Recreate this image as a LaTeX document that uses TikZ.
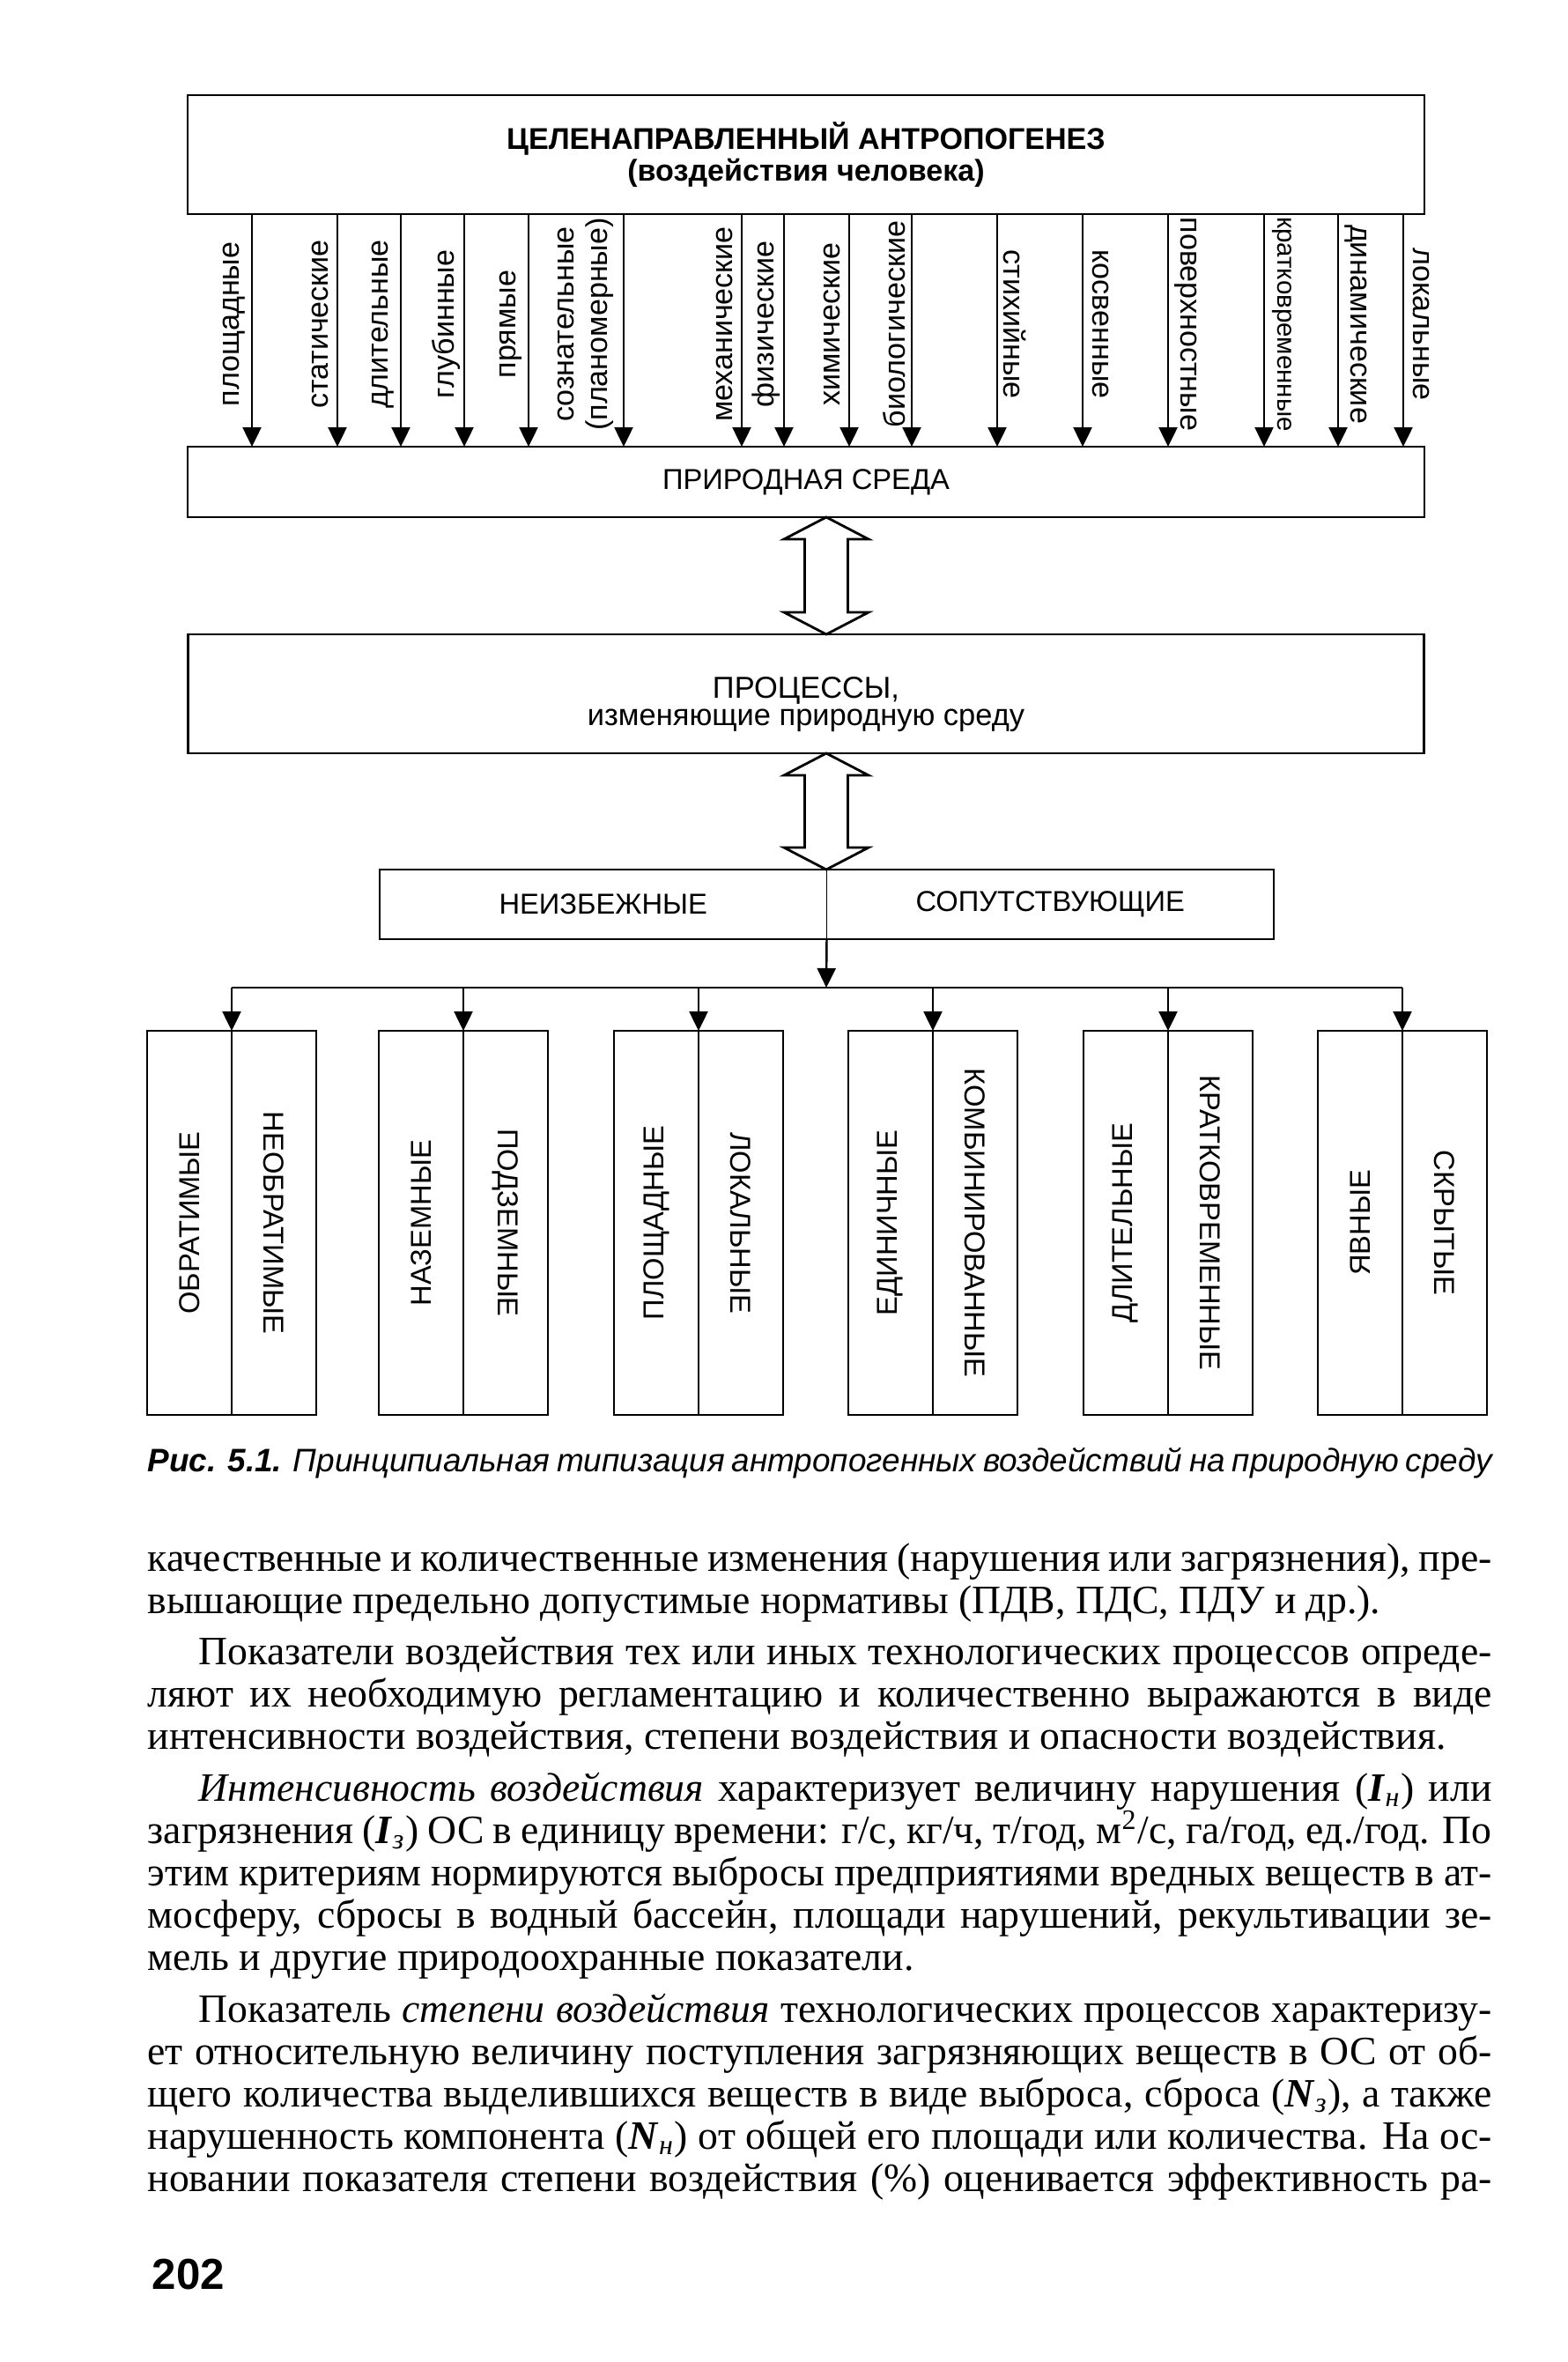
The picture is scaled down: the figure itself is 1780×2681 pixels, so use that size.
\documentclass[tikz,border=0pt]{standalone}
\usepackage{fontspec}
\setmainfont{Liberation Serif}
\setsansfont{Liberation Sans}
\usepackage{tikz}
\usetikzlibrary{arrows.meta, positioning, calc}
\newcommand{\jline}[1]{\hbox to 152.6mm{#1}}
\newcommand{\eline}[1]{\hbox to 152.6mm{#1\hfil}}
\newcommand{\ind}{\hspace*{5.8mm}}

\begin{document}
\begin{tikzpicture}[
    x=0.1mm, y=-0.1mm,
    box/.style    = {draw, line width=0.8pt, inner sep=0pt, outer sep=0pt,
                     align=center, font=\sffamily\fontsize{9.3}{9.5}\selectfont},
    cell/.style   = {draw, line width=0.7pt, inner sep=0pt, outer sep=0pt,
                     minimum width=9.6mm, minimum height=43.6mm,
                     font=\sffamily\fontsize{9.3}{11}\selectfont},
    vlbl/.style   = {inner sep=0pt, align=center,
                     font=\sffamily\fontsize{9.7}{10.8}\selectfont},
    lbl/.style    = {inner sep=0pt, font=\sffamily\fontsize{9.3}{11}\selectfont},
    arr/.style    = {-{Triangle[length=2.2mm, width=2.1mm]}, line width=0.7pt},
    hollow/.style = {draw, fill=white, line width=0.8pt, line join=miter},
    txt/.style    = {anchor=base west, inner sep=0pt,
                     font=\fontsize{13}{15}\selectfont}
  ]
  \fill[white] (0,0) rectangle (1780,2681);
  \useasboundingbox (0,0) rectangle (1780,2681);

  %% Top box and environment
  \node[box, minimum width=140.4mm, minimum height=13.5mm,
        font=\sffamily\bfseries\fontsize{9.7}{8.8}\selectfont] (top) at (915,175.5)
       {ЦЕЛЕНАПРАВЛЕННЫЙ АНТРОПОГЕНЕЗ\\(воздействия человека)};
  \node[box, minimum width=140.4mm, minimum height=8mm] (nat) at (915,547)
       {ПРИРОДНАЯ СРЕДА};

  %% Kinds of impact
  \foreach \x/\t [count=\i] in {286/площадные, 383/статические, 455/длительные,
      527/глубинные, 600/прямые, 842/механические, 890/физические,
      964/химические, 1035/биологические} {
    \coordinate (p) at (\x,0);
    \draw[arr] (top.south -| p) -- (nat.north -| p);
    \node[vlbl, rotate=90] (vl\i) at (\x-20,368) {\t};
  }
  \coordinate (p) at (708,0);
  \draw[arr] (top.south -| p) -- (nat.north -| p);
  \node[vlbl, rotate=90] (vsoz) at (665,368) {сознательные\\(планомерные)};
  \foreach \x/\t [count=\i] in {1132/стихийные, 1229/косвенные,
      1326/поверхностные, 1435/{\fontsize{8.4}{10}\selectfont кратковременные},
      1519/динамические, 1593/локальные} {
    \coordinate (p) at (\x,0);
    \draw[arr] (top.south -| p) -- (nat.north -| p);
    \node[vlbl, rotate=-90] (vr\i) at (\x+20,368) {\t};
  }

  %% Processes
  \node[box, minimum width=140.3mm, minimum height=13.5mm,
        font=\sffamily\fontsize{9.8}{8.6}\selectfont] (proc) at (915,787.5)
       {\rule{0pt}{13.7pt}ПРОЦЕССЫ,\\изменяющие природную среду};
  \node[box, minimum width=101.5mm, minimum height=7.9mm] (kind) at (938.5,1026.5) {};
  \draw[line width=0.4pt] (kind.north) -- (kind.south);
  \node[lbl] (neizb) at ($(kind.west)!0.5!(kind.center)$) {НЕИЗБЕЖНЫЕ};
  \node[lbl] (sopt)  at ($(kind.center)!0.5!(kind.east)$) {СОПУТСТВУЮЩИЕ};

  %% Hollow double arrows
  \coordinate (mid) at (938,0);
  \foreach \a/\b in {nat/proc, proc/kind} {
    \coordinate (t) at (\a.south -| mid);
    \coordinate (b) at (\b.north -| mid);
    \draw[hollow] (t) -- ++(48,25) -- ++(-23.5,0) -- ($(b)+(24.5,-25)$)
      -- ++(23.5,0) -- (b) -- ++(-48,-25) -- ++(23.5,0)
      -- ($(t)+(-24.5,25)$) -- ++(-23.5,0) -- cycle;
  }

  %% Pairs of opposite kinds
  \coordinate (fork) at (938,1121);
  \draw[arr] (kind.south) -- (fork);
  \foreach \x/\l/\r [count=\i] in {167/ОБРАТИМЫЕ/НЕОБРАТИМЫЕ,
      430/НАЗЕМНЫЕ/ПОДЗЕМНЫЕ, 697/ПЛОЩАДНЫЕ/ЛОКАЛЬНЫЕ,
      963/ЕДИНИЧНЫЕ/КОМБИНИРОВАННЫЕ, 1230/ДЛИТЕЛЬНЫЕ/КРАТКОВРЕМЕННЫЕ,
      1496/ЯВНЫЕ/СКРЫТЫЕ} {
    \node[cell, anchor=north west] (a\i) at (\x,1170) {\rotatebox{90}{\l}};
    \node[cell, right=0pt of a\i] (b\i) {\rotatebox{-90}{\r}};
    \draw[arr] (fork -| a\i.north east) -- (a\i.north east);
  }
  \draw[line width=0.8pt] (fork -| a1.north east) -- (fork -| a6.north east);

  %% Caption
  \node[txt, font=\sffamily\itshape\fontsize{10.5}{12}\selectfont] (cap) at (167,1670)
       {\jline{\textbf{Рис. 5.1.} Принципиальная типизация антропогенных воздействий на природную среду}};

  %% Body text
  \node[txt] (l1)  at (167,1783)   {\jline{качественные и количественные изменения (нарушения или загрязнения), пре-}};
  \node[txt] (l2)  at (167,1831.2) {\eline{вышающие предельно допустимые нормативы (ПДВ, ПДС, ПДУ и др.).}};
  \node[txt] (l3)  at (167,1889.4) {\jline{\ind Показатели воздействия тех или иных технологических процессов опреде-}};
  \node[txt] (l4)  at (167,1937.6) {\jline{ляют их необходимую регламентацию и количественно выражаются в виде}};
  \node[txt] (l5)  at (167,1985.8) {\eline{интенсивности воздействия, степени воздействия и опасности воздействия.}};
  \node[txt] (l6)  at (167,2044)   {\jline{\ind\textit{Интенсивность воздействия} характеризует величину нарушения (\textbf{\textit{I}}\textsubscript{\textit{н}}) или}};
  \node[txt] (l7)  at (167,2092.2) {\jline{загрязнения (\textbf{\textit{I}}\textsubscript{\textit{з}}) ОС в единицу времени: г/с, кг/ч, т/год, м\textsuperscript{2}/с, га/год, ед./год. По}};
  \node[txt] (l8)  at (167,2140.4) {\jline{этим критериям нормируются выбросы предприятиями вредных веществ в ат-}};
  \node[txt] (l9)  at (167,2188.6) {\jline{мосферу, сбросы в водный бассейн, площади нарушений, рекультивации зе-}};
  \node[txt] (l10) at (167,2236.8) {\eline{мель и другие природоохранные показатели.}};
  \node[txt] (l11) at (167,2295)   {\jline{\ind Показатель \textit{степени воздействия} технологических процессов характеризу-}};
  \node[txt] (l12) at (167,2343.2) {\jline{ет относительную величину поступления загрязняющих веществ в ОС от об-}};
  \node[txt] (l13) at (167,2391.4) {\jline{щего количества выделившихся веществ в виде выброса, сброса (\textbf{\textit{N}}\textsubscript{\textit{з}}), а также}};
  \node[txt] (l14) at (167,2439.6) {\jline{нарушенность компонента (\textbf{\textit{N}}\textsubscript{\textit{н}}) от общей его площади или количества. На ос-}};
  \node[txt] (l15) at (167,2487.8) {\jline{новании показателя степени воздействия (\%) оценивается эффективность ра-}};

  %% Page number
  \node[txt, font=\sffamily\bfseries\fontsize{14}{16}\selectfont] (pg) at (172,2598) {202};
\end{tikzpicture}
\end{document}
